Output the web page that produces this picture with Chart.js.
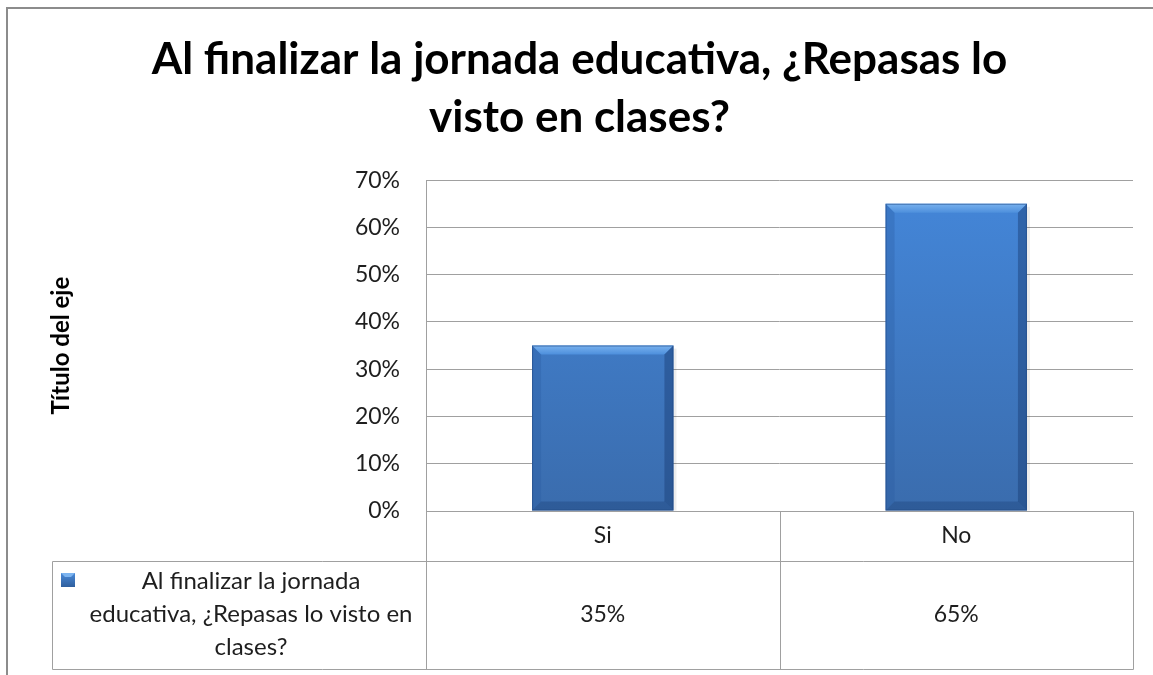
<!DOCTYPE html>
<html>
<head>
<meta charset="utf-8">
<script src="https://cdn.jsdelivr.net/npm/chart.js@4/dist/chart.umd.min.js"></script>
<style>
  html, body { margin: 0; padding: 0; background: #fff; }
  #wrap { width: 1153px; height: 675px; position: relative; }
</style>
</head>
<body>
<div id="wrap"><canvas id="grafico" width="1153" height="675"></canvas></div>
<script>
// datos del gráfico
const categorias = ["Si", "No"];
const valores = [35, 65];
const serie = "Al finalizar la jornada educativa, ¿Repasas lo visto en clases?";
const serieLineas = ["Al finalizar la jornada", "educativa, ¿Repasas lo visto en", "clases?"];
const titulo = ["Al finalizar la jornada educativa, ¿Repasas lo", "visto en clases?"];
const ejeMax = 70;
const ejePaso = 10;

const GRIS = "#a0a0a0";
const fuente = "Lato, 'Open Sans', sans-serif";

// relleno de la barra con degradado vertical
function rellenoBarra(ctx) {
  const chart = ctx.chart;
  const area = chart.chartArea;
  if (!area) return "#4080d0";
  const g = chart.ctx.createLinearGradient(0, area.top, 0, area.bottom);
  g.addColorStop(0, "#4487da");
  g.addColorStop(1, "#3a6cad");
  return g;
}

// bisel estilo Excel sobre cada barra
const bisel = {
  id: "bisel",
  afterDatasetsDraw(chart) {
    const c = chart.ctx;
    chart.getDatasetMeta(0).data.forEach((bar) => {
      const l = bar.x - bar.width / 2, r = bar.x + bar.width / 2;
      const t = bar.y, b = bar.base, e = 9;
      c.save();
      // sombra a la derecha
      c.fillStyle = "rgba(0,0,0,0.07)";
      c.fillRect(r, t + 3, 3, b - t - 3);
      const lado = (pts, color) => {
        c.beginPath();
        c.moveTo(pts[0][0], pts[0][1]);
        pts.slice(1).forEach((p) => c.lineTo(p[0], p[1]));
        c.closePath();
        c.fillStyle = color;
        c.fill();
      };
      const gt = c.createLinearGradient(0, t, 0, t + e);
      gt.addColorStop(0, "#78b1ee");
      gt.addColorStop(1, "#4d8fdc");
      lado([[l, t], [r, t], [r - e, t + e], [l + e, t + e]], gt);
      lado([[l, t], [l + e, t + e], [l + e, b - e], [l, b]], "rgba(40,90,160,0.3)");
      lado([[r, t], [r, b], [r - e, b - e], [r - e, t + e]], "rgba(25,60,115,0.45)");
      lado([[l, b], [l + e, b - e], [r - e, b - e], [r, b]], "rgba(25,60,115,0.35)");
      c.strokeStyle = "rgba(30,70,130,0.55)";
      c.lineWidth = 1;
      c.strokeRect(l + 0.5, t + 0.5, r - l - 1, b - t - 1);
      c.restore();
    });
  }
};

// marco y tabla de datos debajo del eje
const tablaDatos = {
  id: "tablaDatos",
  beforeDraw(chart) {
    const c = chart.ctx;
    c.save();
    c.strokeStyle = "#8c8c8c";
    c.lineWidth = 2;
    c.beginPath();
    c.moveTo(7, 675);
    c.lineTo(7, 8);
    c.lineTo(1153, 8);
    c.stroke();
    c.restore();
  },
  afterDraw(chart) {
    const c = chart.ctx;
    const x = chart.scales.x;
    const area = chart.chartArea;
    const n = categorias.length;
    const paso = (area.right - area.left) / n;
    const fila1 = area.bottom, fila2 = area.bottom + 50, fin = area.bottom + 158;
    const izq = 52;
    c.save();
    c.strokeStyle = GRIS;
    c.lineWidth = 1;
    const linea = (x1, y1, x2, y2) => {
      c.beginPath();
      c.moveTo(Math.round(x1) + 0.5, Math.round(y1) + 0.5);
      c.lineTo(Math.round(x2) + 0.5, Math.round(y2) + 0.5);
      c.stroke();
    };
    linea(area.left, area.top, area.left, fin);
    linea(area.left, fila1, area.right, fila1);
    linea(izq, fila2, area.right, fila2);
    linea(izq, fin, area.right, fin);
    linea(izq, fila2, izq, fin);
    for (let i = 1; i <= n; i++) linea(area.left + i * paso, fila1, area.left + i * paso, fin);

    c.fillStyle = "#1e1e1e";
    c.textAlign = "center";
    c.textBaseline = "middle";
    c.font = "23px " + fuente;
    categorias.forEach((cat, i) => {
      const cx = x.getPixelForValue(i);
      c.fillText(cat, cx, (fila1 + fila2) / 2);
      c.fillText(valores[i] + "%", cx, (fila2 + fin) / 2);
    });

    // clave de la leyenda
    const kx = 61, ky = 573, ks = 14;
    const gk = c.createLinearGradient(0, ky, 0, ky + ks);
    gk.addColorStop(0, "#4a8ad8");
    gk.addColorStop(1, "#2f5f9e");
    c.fillStyle = gk;
    c.fillRect(kx, ky, ks, ks);
    c.fillStyle = "#7cb4f0";
    c.beginPath();
    c.moveTo(kx, ky); c.lineTo(kx + ks, ky); c.lineTo(kx + ks - 4, ky + 4); c.lineTo(kx + 4, ky + 4);
    c.closePath(); c.fill();

    c.fillStyle = "#1e1e1e";
    c.font = "24px " + fuente;
    const cyl = (fila2 + fin) / 2 - 1;
    serieLineas.forEach((t, i) => {
      c.fillText(t, 251, cyl + (i - 1) * 33);
    });
    c.restore();
  }
};

new Chart(document.getElementById("grafico"), {
  type: "bar",
  data: {
    labels: categorias,
    datasets: [{
      label: serie,
      data: valores,
      backgroundColor: rellenoBarra,
      borderWidth: 0,
      categoryPercentage: 1,
      barPercentage: 0.4
    }]
  },
  options: {
    responsive: false,
    animation: false,
    devicePixelRatio: 1,
    layout: { padding: { top: 0, right: 20, bottom: 144, left: 26 } },
    plugins: {
      legend: { display: false },
      tooltip: { enabled: false },
      title: {
        display: true,
        text: titulo,
        color: "#000",
        font: { family: fuente, size: 44, weight: "bold", lineHeight: 1.32 },
        padding: { top: 31, bottom: 33 }
      }
    },
    scales: {
      x: {
        afterFit(scale) { scale.height = 20; },
        ticks: { display: false },
        grid: { display: false },
        border: { display: false }
      },
      y: {
        min: 0,
        max: ejeMax,
        afterFit(scale) { scale.width = 400; },
        ticks: {
          stepSize: ejePaso,
          padding: 26,
          color: "#1e1e1e",
          font: { family: fuente, size: 23 },
          callback: (v) => v + "%"
        },
        grid: { color: GRIS, drawTicks: false },
        border: { display: false },
        title: {
          display: true,
          text: "Título del eje",
          color: "#000",
          font: { family: fuente, size: 24, weight: "bold" },
          padding: { top: 21 }
        }
      }
    }
  },
  plugins: [bisel, tablaDatos]
});
</script>
</body>
</html>
